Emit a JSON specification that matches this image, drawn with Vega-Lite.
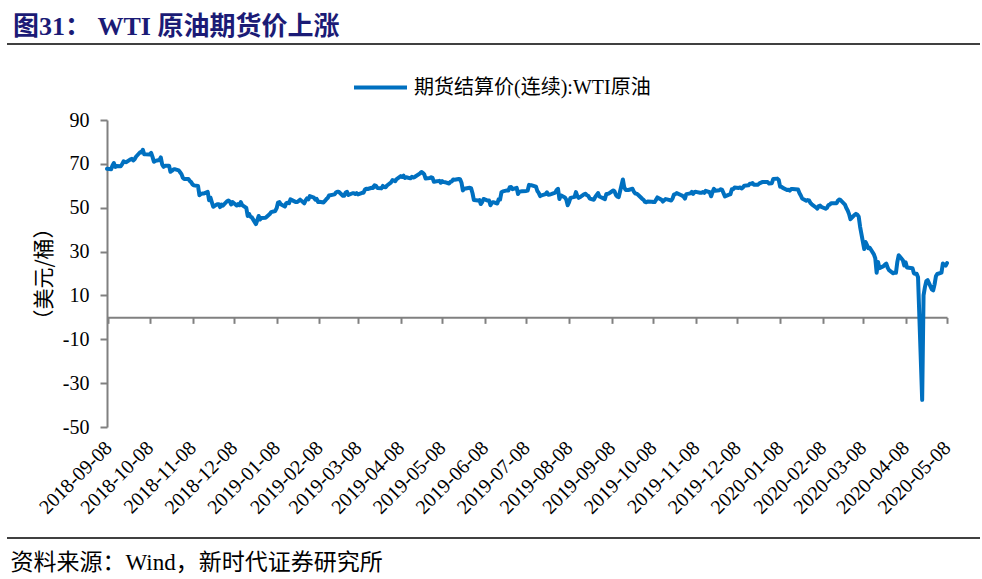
{
  "$schema": "https://vega.github.io/schema/vega-lite/v6.json",
  "width": 840,
  "height": 307,
  "autosize": {"type": "none"},
  "padding": {"left": 107, "top": 120, "right": 35, "bottom": 152},
  "background": "white",
  "title": {
    "text": "图31：  WTI 原油期货价上涨",
    "anchor": "start",
    "frame": "group",
    "font": "Liberation Serif, Noto Sans CJK SC",
    "fontSize": 26,
    "fontWeight": "bold",
    "color": "#1B1B76",
    "dx": -94,
    "offset": 3
  },
  "config": {
    "view": {"stroke": null},
    "axis": {
      "labelFont": "Liberation Serif, Noto Sans CJK SC",
      "titleFont": "Liberation Serif, Noto Sans CJK SC",
      "labelColor": "black",
      "titleColor": "black",
      "domainColor": "#808080",
      "tickColor": "#808080",
      "domainWidth": 2,
      "tickWidth": 2,
      "grid": false
    }
  },
  "layer": [
    {
      "data": {
        "values": [
          {"d":"2018-09-07","v":67.75},{"d":"2018-09-10","v":67.54},{"d":"2018-09-11","v":69.25},{"d":"2018-09-12","v":70.37},{"d":"2018-09-13","v":68.59},{"d":"2018-09-14","v":68.99},
          {"d":"2018-09-17","v":68.91},{"d":"2018-09-18","v":69.85},{"d":"2018-09-19","v":71.12},{"d":"2018-09-20","v":70.8},{"d":"2018-09-21","v":70.78},
          {"d":"2018-09-24","v":72.08},{"d":"2018-09-25","v":72.28},{"d":"2018-09-26","v":71.57},{"d":"2018-09-27","v":72.12},{"d":"2018-09-28","v":73.25},
          {"d":"2018-10-01","v":75.3},{"d":"2018-10-02","v":75.23},{"d":"2018-10-03","v":76.41},{"d":"2018-10-04","v":74.33},{"d":"2018-10-05","v":74.34},
          {"d":"2018-10-08","v":74.29},{"d":"2018-10-09","v":74.96},{"d":"2018-10-10","v":73.17},{"d":"2018-10-11","v":70.97},{"d":"2018-10-12","v":71.34},
          {"d":"2018-10-15","v":71.78},{"d":"2018-10-16","v":72.92},{"d":"2018-10-17","v":69.75},{"d":"2018-10-18","v":68.65},{"d":"2018-10-19","v":69.12},
          {"d":"2018-10-22","v":69.17},{"d":"2018-10-23","v":66.43},{"d":"2018-10-24","v":66.82},{"d":"2018-10-25","v":67.33},{"d":"2018-10-26","v":67.59},
          {"d":"2018-10-29","v":67.04},{"d":"2018-10-30","v":66.18},{"d":"2018-10-31","v":65.31},{"d":"2018-11-01","v":63.69},{"d":"2018-11-02","v":63.14},
          {"d":"2018-11-05","v":63.1},{"d":"2018-11-06","v":62.21},{"d":"2018-11-07","v":61.67},{"d":"2018-11-08","v":60.67},{"d":"2018-11-09","v":60.19},
          {"d":"2018-11-12","v":59.93},{"d":"2018-11-13","v":55.69},{"d":"2018-11-14","v":56.25},{"d":"2018-11-15","v":56.46},{"d":"2018-11-16","v":56.46},
          {"d":"2018-11-19","v":57.2},{"d":"2018-11-20","v":53.43},{"d":"2018-11-21","v":54.63},{"d":"2018-11-23","v":50.42},
          {"d":"2018-11-26","v":51.63},{"d":"2018-11-27","v":51.56},{"d":"2018-11-28","v":50.29},{"d":"2018-11-29","v":51.45},{"d":"2018-11-30","v":50.93},
          {"d":"2018-12-03","v":52.95},{"d":"2018-12-04","v":53.25},{"d":"2018-12-05","v":52.89},{"d":"2018-12-06","v":51.49},{"d":"2018-12-07","v":52.61},
          {"d":"2018-12-10","v":51.0},{"d":"2018-12-11","v":51.65},{"d":"2018-12-12","v":51.15},{"d":"2018-12-13","v":52.58},{"d":"2018-12-14","v":51.2},
          {"d":"2018-12-17","v":49.88},{"d":"2018-12-18","v":46.24},{"d":"2018-12-19","v":47.2},{"d":"2018-12-20","v":45.88},{"d":"2018-12-21","v":45.59},
          {"d":"2018-12-24","v":42.53},{"d":"2018-12-26","v":46.22},{"d":"2018-12-27","v":44.61},{"d":"2018-12-28","v":45.33},{"d":"2018-12-31","v":45.41},
          {"d":"2019-01-02","v":46.54},{"d":"2019-01-03","v":47.09},{"d":"2019-01-04","v":47.96},
          {"d":"2019-01-07","v":48.52},{"d":"2019-01-08","v":49.78},{"d":"2019-01-09","v":52.36},{"d":"2019-01-10","v":52.59},{"d":"2019-01-11","v":51.59},
          {"d":"2019-01-14","v":50.51},{"d":"2019-01-15","v":52.11},{"d":"2019-01-16","v":52.31},{"d":"2019-01-17","v":52.07},{"d":"2019-01-18","v":53.8},
          {"d":"2019-01-22","v":52.57},{"d":"2019-01-23","v":52.62},{"d":"2019-01-24","v":53.13},{"d":"2019-01-25","v":53.69},
          {"d":"2019-01-28","v":51.99},{"d":"2019-01-29","v":53.31},{"d":"2019-01-30","v":54.23},{"d":"2019-01-31","v":53.79},{"d":"2019-02-01","v":55.26},
          {"d":"2019-02-04","v":54.56},{"d":"2019-02-05","v":53.66},{"d":"2019-02-06","v":54.01},{"d":"2019-02-07","v":52.64},{"d":"2019-02-08","v":52.72},
          {"d":"2019-02-11","v":52.41},{"d":"2019-02-12","v":53.1},{"d":"2019-02-13","v":53.9},{"d":"2019-02-14","v":54.41},{"d":"2019-02-15","v":55.59},
          {"d":"2019-02-19","v":56.09},{"d":"2019-02-20","v":56.92},{"d":"2019-02-21","v":57.26},{"d":"2019-02-22","v":57.26},
          {"d":"2019-02-25","v":55.48},{"d":"2019-02-26","v":55.5},{"d":"2019-02-27","v":56.94},{"d":"2019-02-28","v":57.22},{"d":"2019-03-01","v":55.8},
          {"d":"2019-03-04","v":56.59},{"d":"2019-03-05","v":56.56},{"d":"2019-03-06","v":56.22},{"d":"2019-03-07","v":56.66},{"d":"2019-03-08","v":56.07},
          {"d":"2019-03-11","v":56.79},{"d":"2019-03-12","v":56.87},{"d":"2019-03-13","v":58.26},{"d":"2019-03-14","v":58.61},{"d":"2019-03-15","v":58.52},
          {"d":"2019-03-18","v":59.09},{"d":"2019-03-19","v":59.03},{"d":"2019-03-20","v":60.23},{"d":"2019-03-21","v":59.98},{"d":"2019-03-22","v":59.04},
          {"d":"2019-03-25","v":58.82},{"d":"2019-03-26","v":59.94},{"d":"2019-03-27","v":59.41},{"d":"2019-03-28","v":59.3},{"d":"2019-03-29","v":60.14},
          {"d":"2019-04-01","v":61.59},{"d":"2019-04-02","v":62.58},{"d":"2019-04-03","v":62.46},{"d":"2019-04-04","v":62.1},{"d":"2019-04-05","v":63.08},
          {"d":"2019-04-08","v":64.4},{"d":"2019-04-09","v":64.05},{"d":"2019-04-10","v":64.61},{"d":"2019-04-11","v":63.58},{"d":"2019-04-12","v":63.89},
          {"d":"2019-04-15","v":63.4},{"d":"2019-04-16","v":64.05},{"d":"2019-04-17","v":63.76},{"d":"2019-04-18","v":64.0},
          {"d":"2019-04-22","v":65.7},{"d":"2019-04-23","v":66.3},{"d":"2019-04-24","v":65.89},{"d":"2019-04-25","v":65.21},{"d":"2019-04-26","v":63.3},
          {"d":"2019-04-29","v":63.5},{"d":"2019-04-30","v":63.91},{"d":"2019-05-01","v":63.6},{"d":"2019-05-02","v":61.81},{"d":"2019-05-03","v":61.94},
          {"d":"2019-05-06","v":62.25},{"d":"2019-05-07","v":61.4},{"d":"2019-05-08","v":62.12},{"d":"2019-05-09","v":61.7},{"d":"2019-05-10","v":61.66},
          {"d":"2019-05-13","v":61.04},{"d":"2019-05-14","v":61.78},{"d":"2019-05-15","v":62.02},{"d":"2019-05-16","v":62.87},{"d":"2019-05-17","v":62.76},
          {"d":"2019-05-20","v":63.1},{"d":"2019-05-21","v":62.99},{"d":"2019-05-22","v":61.42},{"d":"2019-05-23","v":57.91},{"d":"2019-05-24","v":58.63},
          {"d":"2019-05-28","v":59.14},{"d":"2019-05-29","v":58.81},{"d":"2019-05-30","v":56.59},{"d":"2019-05-31","v":53.5},
          {"d":"2019-06-03","v":53.25},{"d":"2019-06-04","v":53.48},{"d":"2019-06-05","v":51.68},{"d":"2019-06-06","v":52.59},{"d":"2019-06-07","v":53.99},
          {"d":"2019-06-10","v":53.26},{"d":"2019-06-11","v":53.27},{"d":"2019-06-12","v":51.14},{"d":"2019-06-13","v":52.28},{"d":"2019-06-14","v":52.51},
          {"d":"2019-06-17","v":51.93},{"d":"2019-06-18","v":53.9},{"d":"2019-06-19","v":53.76},{"d":"2019-06-20","v":57.07},{"d":"2019-06-21","v":57.43},
          {"d":"2019-06-24","v":57.9},{"d":"2019-06-25","v":57.83},{"d":"2019-06-26","v":59.38},{"d":"2019-06-27","v":59.43},{"d":"2019-06-28","v":58.47},
          {"d":"2019-07-01","v":59.09},{"d":"2019-07-02","v":56.25},{"d":"2019-07-03","v":57.34},{"d":"2019-07-05","v":57.51},
          {"d":"2019-07-08","v":57.66},{"d":"2019-07-09","v":57.83},{"d":"2019-07-10","v":60.43},{"d":"2019-07-11","v":60.2},{"d":"2019-07-12","v":60.21},
          {"d":"2019-07-15","v":59.58},{"d":"2019-07-16","v":57.62},{"d":"2019-07-17","v":56.78},{"d":"2019-07-18","v":55.3},{"d":"2019-07-19","v":55.63},
          {"d":"2019-07-22","v":56.22},{"d":"2019-07-23","v":57.0},{"d":"2019-07-24","v":55.88},{"d":"2019-07-25","v":56.02},{"d":"2019-07-26","v":56.2},
          {"d":"2019-07-29","v":56.87},{"d":"2019-07-30","v":58.05},{"d":"2019-07-31","v":58.58},{"d":"2019-08-01","v":53.95},{"d":"2019-08-02","v":55.66},
          {"d":"2019-08-05","v":54.69},{"d":"2019-08-06","v":53.63},{"d":"2019-08-07","v":51.09},{"d":"2019-08-08","v":52.54},{"d":"2019-08-09","v":54.5},
          {"d":"2019-08-12","v":54.93},{"d":"2019-08-13","v":57.1},{"d":"2019-08-14","v":55.23},{"d":"2019-08-15","v":54.47},{"d":"2019-08-16","v":54.87},
          {"d":"2019-08-19","v":56.21},{"d":"2019-08-20","v":56.34},{"d":"2019-08-21","v":55.68},{"d":"2019-08-22","v":55.35},{"d":"2019-08-23","v":54.17},
          {"d":"2019-08-26","v":53.64},{"d":"2019-08-27","v":54.93},{"d":"2019-08-28","v":55.78},{"d":"2019-08-29","v":56.71},{"d":"2019-08-30","v":55.1},
          {"d":"2019-09-03","v":53.94},{"d":"2019-09-04","v":56.26},{"d":"2019-09-05","v":56.3},{"d":"2019-09-06","v":56.52},
          {"d":"2019-09-09","v":57.85},{"d":"2019-09-10","v":57.4},{"d":"2019-09-11","v":55.75},{"d":"2019-09-12","v":55.09},{"d":"2019-09-13","v":54.85},
          {"d":"2019-09-16","v":62.9},{"d":"2019-09-17","v":59.34},{"d":"2019-09-18","v":58.11},{"d":"2019-09-19","v":58.13},{"d":"2019-09-20","v":58.09},
          {"d":"2019-09-23","v":58.64},{"d":"2019-09-24","v":57.29},{"d":"2019-09-25","v":56.49},{"d":"2019-09-26","v":56.41},{"d":"2019-09-27","v":55.91},
          {"d":"2019-09-30","v":54.07},{"d":"2019-10-01","v":53.62},{"d":"2019-10-02","v":52.64},{"d":"2019-10-03","v":52.45},{"d":"2019-10-04","v":52.81},
          {"d":"2019-10-07","v":52.75},{"d":"2019-10-08","v":52.63},{"d":"2019-10-09","v":52.59},{"d":"2019-10-10","v":53.55},{"d":"2019-10-11","v":54.7},
          {"d":"2019-10-14","v":53.59},{"d":"2019-10-15","v":52.81},{"d":"2019-10-16","v":53.36},{"d":"2019-10-17","v":53.93},{"d":"2019-10-18","v":53.78},
          {"d":"2019-10-21","v":53.31},{"d":"2019-10-22","v":54.16},{"d":"2019-10-23","v":55.97},{"d":"2019-10-24","v":56.23},{"d":"2019-10-25","v":56.66},
          {"d":"2019-10-28","v":55.81},{"d":"2019-10-29","v":55.54},{"d":"2019-10-30","v":55.06},{"d":"2019-10-31","v":54.18},{"d":"2019-11-01","v":56.2},
          {"d":"2019-11-04","v":56.54},{"d":"2019-11-05","v":57.23},{"d":"2019-11-06","v":56.35},{"d":"2019-11-07","v":57.15},{"d":"2019-11-08","v":57.24},
          {"d":"2019-11-11","v":56.86},{"d":"2019-11-12","v":56.8},{"d":"2019-11-13","v":57.12},{"d":"2019-11-14","v":56.77},{"d":"2019-11-15","v":57.72},
          {"d":"2019-11-18","v":57.05},{"d":"2019-11-19","v":55.21},{"d":"2019-11-20","v":57.11},{"d":"2019-11-21","v":58.58},{"d":"2019-11-22","v":57.77},
          {"d":"2019-11-25","v":58.01},{"d":"2019-11-26","v":58.41},{"d":"2019-11-27","v":58.11},{"d":"2019-11-29","v":55.17},
          {"d":"2019-12-02","v":55.96},{"d":"2019-12-03","v":56.1},{"d":"2019-12-04","v":58.43},{"d":"2019-12-05","v":58.43},{"d":"2019-12-06","v":59.2},
          {"d":"2019-12-09","v":59.02},{"d":"2019-12-10","v":59.24},{"d":"2019-12-11","v":58.76},{"d":"2019-12-12","v":59.18},{"d":"2019-12-13","v":60.07},
          {"d":"2019-12-16","v":60.21},{"d":"2019-12-17","v":60.94},{"d":"2019-12-18","v":60.93},{"d":"2019-12-19","v":61.22},{"d":"2019-12-20","v":60.44},
          {"d":"2019-12-23","v":60.52},{"d":"2019-12-24","v":61.11},{"d":"2019-12-26","v":61.68},{"d":"2019-12-27","v":61.72},
          {"d":"2019-12-30","v":61.68},{"d":"2019-12-31","v":61.06},{"d":"2020-01-02","v":61.18},{"d":"2020-01-03","v":63.05},
          {"d":"2020-01-06","v":63.27},{"d":"2020-01-07","v":62.7},{"d":"2020-01-08","v":59.61},{"d":"2020-01-09","v":59.56},{"d":"2020-01-10","v":59.04},
          {"d":"2020-01-13","v":58.08},{"d":"2020-01-14","v":58.23},{"d":"2020-01-15","v":57.81},{"d":"2020-01-16","v":58.52},{"d":"2020-01-17","v":58.54},
          {"d":"2020-01-21","v":58.34},{"d":"2020-01-22","v":56.74},{"d":"2020-01-23","v":55.59},{"d":"2020-01-24","v":54.19},
          {"d":"2020-01-27","v":53.14},{"d":"2020-01-28","v":53.48},{"d":"2020-01-29","v":53.33},{"d":"2020-01-30","v":52.14},{"d":"2020-01-31","v":51.56},
          {"d":"2020-02-03","v":50.11},{"d":"2020-02-04","v":49.61},{"d":"2020-02-05","v":50.75},{"d":"2020-02-06","v":50.95},{"d":"2020-02-07","v":50.32},
          {"d":"2020-02-10","v":49.57},{"d":"2020-02-11","v":49.94},{"d":"2020-02-12","v":51.17},{"d":"2020-02-13","v":51.42},{"d":"2020-02-14","v":52.05},
          {"d":"2020-02-18","v":52.05},{"d":"2020-02-19","v":53.29},{"d":"2020-02-20","v":53.78},{"d":"2020-02-21","v":53.38},
          {"d":"2020-02-24","v":51.43},{"d":"2020-02-25","v":49.9},{"d":"2020-02-26","v":48.73},{"d":"2020-02-27","v":47.09},{"d":"2020-02-28","v":44.76},
          {"d":"2020-03-02","v":46.75},{"d":"2020-03-03","v":47.18},{"d":"2020-03-04","v":46.78},{"d":"2020-03-05","v":45.9},{"d":"2020-03-06","v":41.28},
          {"d":"2020-03-09","v":31.13},{"d":"2020-03-10","v":34.36},{"d":"2020-03-11","v":32.98},{"d":"2020-03-12","v":31.5},{"d":"2020-03-13","v":31.73},
          {"d":"2020-03-16","v":28.7},{"d":"2020-03-17","v":26.95},{"d":"2020-03-18","v":20.37},{"d":"2020-03-19","v":25.22},{"d":"2020-03-20","v":22.43},
          {"d":"2020-03-23","v":23.36},{"d":"2020-03-24","v":24.01},{"d":"2020-03-25","v":24.49},{"d":"2020-03-26","v":22.6},{"d":"2020-03-27","v":21.51},
          {"d":"2020-03-30","v":20.09},{"d":"2020-03-31","v":20.48},{"d":"2020-04-01","v":20.31},{"d":"2020-04-02","v":25.32},{"d":"2020-04-03","v":28.34},
          {"d":"2020-04-06","v":26.08},{"d":"2020-04-07","v":23.63},{"d":"2020-04-08","v":25.09},{"d":"2020-04-09","v":22.76},
          {"d":"2020-04-13","v":22.41},{"d":"2020-04-14","v":20.11},{"d":"2020-04-15","v":19.87},{"d":"2020-04-16","v":19.87},{"d":"2020-04-17","v":18.27},
          {"d":"2020-04-20","v":-37.63},{"d":"2020-04-21","v":10.01},{"d":"2020-04-22","v":13.78},{"d":"2020-04-23","v":16.5},{"d":"2020-04-24","v":16.94},
          {"d":"2020-04-27","v":12.78},{"d":"2020-04-28","v":12.34},{"d":"2020-04-29","v":15.06},{"d":"2020-04-30","v":18.84},{"d":"2020-05-01","v":19.78},
          {"d":"2020-05-04","v":20.39},{"d":"2020-05-05","v":24.56},{"d":"2020-05-06","v":23.99},{"d":"2020-05-07","v":23.55},{"d":"2020-05-08","v":24.74}
        ]
      },
      "mark": {"type": "line", "strokeWidth": 4, "strokeJoin": "round", "strokeCap": "round"},
      "encoding": {
        "x": {
          "field": "d",
          "type": "temporal",
          "scale": {"type": "utc", "domain": [{"year": 2018, "month": 9, "date": 7, "utc": true}, {"year": 2020, "month": 5, "date": 8, "utc": true}], "nice": false},
          "axis": {
            "orient": "bottom",
            "offset": -109.64,
            "values": [
              {"year": 2018, "month": 9, "date": 8, "utc": true},
              {"year": 2018, "month": 10, "date": 8, "utc": true},
              {"year": 2018, "month": 11, "date": 8, "utc": true},
              {"year": 2018, "month": 12, "date": 8, "utc": true},
              {"year": 2019, "month": 1, "date": 8, "utc": true},
              {"year": 2019, "month": 2, "date": 8, "utc": true},
              {"year": 2019, "month": 3, "date": 8, "utc": true},
              {"year": 2019, "month": 4, "date": 8, "utc": true},
              {"year": 2019, "month": 5, "date": 8, "utc": true},
              {"year": 2019, "month": 6, "date": 8, "utc": true},
              {"year": 2019, "month": 7, "date": 8, "utc": true},
              {"year": 2019, "month": 8, "date": 8, "utc": true},
              {"year": 2019, "month": 9, "date": 8, "utc": true},
              {"year": 2019, "month": 10, "date": 8, "utc": true},
              {"year": 2019, "month": 11, "date": 8, "utc": true},
              {"year": 2019, "month": 12, "date": 8, "utc": true},
              {"year": 2020, "month": 1, "date": 8, "utc": true},
              {"year": 2020, "month": 2, "date": 8, "utc": true},
              {"year": 2020, "month": 3, "date": 8, "utc": true},
              {"year": 2020, "month": 4, "date": 8, "utc": true},
              {"year": 2020, "month": 5, "date": 8, "utc": true}
            ],
            "format": "%Y-%m-%d",
            "labelAngle": -45,
            "labelAlign": "right",
            "labelBaseline": "middle",
            "labelFontSize": 20,
            "labelPadding": 121,
            "labelOverlap": false,
            "labelFlush": false,
            "labelBound": false,
            "tickSize": 6,
            "title": "资料来源：Wind，新时代证券研究所",
            "titleFontSize": 23,
            "titleFontWeight": "normal",
            "titleAngle": 0,
            "titleAlign": "left",
            "titleAnchor": "start",
            "titleBaseline": "alphabetic",
            "titleX": -97,
            "titleY": 252
          }
        },
        "y": {
          "field": "v",
          "type": "quantitative",
          "scale": {"domain": [-50, 90], "nice": false, "zero": false},
          "axis": {
            "values": [-50, -30, -10, 10, 30, 50, 70, 90],
            "labelExpr": "'' + datum.value",
            "tickSize": 7,
            "labelPadding": 11,
            "labelFontSize": 20,
            "title": "（美元/桶）",
            "titleFont": "Noto Sans CJK SC",
            "titleFontSize": 21,
            "titleFontWeight": "normal",
            "titlePadding": 8
          }
        },
        "color": {
          "datum": "期货结算价(连续):WTI原油",
          "type": "nominal",
          "scale": {"range": ["#0070C0"]},
          "legend": {
            "orient": "none",
            "legendX": 245,
            "legendY": -61,
            "title": null,
            "direction": "horizontal",
            "symbolType": "stroke",
            "symbolSize": 2809,
            "symbolStrokeWidth": 4,
            "labelFont": "Liberation Serif, Noto Sans CJK SC",
            "labelFontSize": 20,
            "labelLimit": 0,
            "labelColor": "black",
            "labelOffset": 5
          }
        }
      }
    },
    {
      "data": {"values": [{"part": "header"}]},
      "mark": {"type": "rule", "color": "black", "strokeWidth": 1.5},
      "encoding": {"x": {"value": -100}, "x2": {"value": 873}, "y": {"value": -76}}
    },
    {
      "data": {"values": [{"part": "footer"}]},
      "mark": {"type": "rule", "color": "black", "strokeWidth": 1.5},
      "encoding": {"x": {"value": -100}, "x2": {"value": 873}, "y": {"value": 418}}
    }
  ]
}
